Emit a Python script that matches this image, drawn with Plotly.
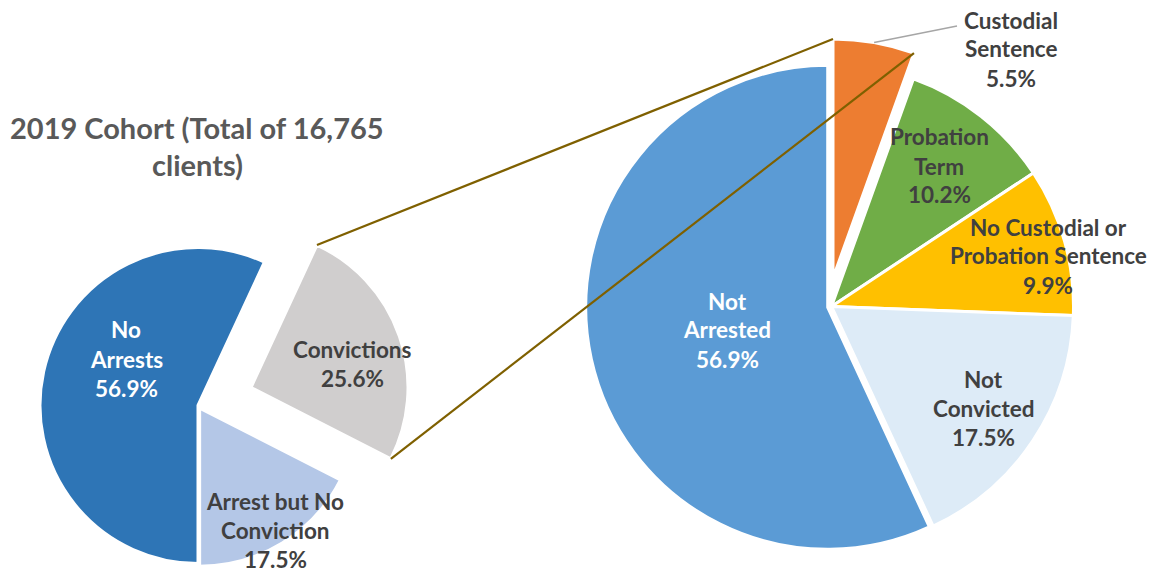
import math
import plotly.graph_objects as go

# ---- data -------------------------------------------------------------
left_labels = ["No Arrests", "Convictions", "Arrest but No Conviction"]
left_values = [56.9, 25.6, 17.5]
left_colors = ["#2E75B6", "#D0CECE", "#B4C7E7"]
left_text_lines = [["No", "Arrests"], ["Convictions"], ["Arrest but No", "Conviction"]]

right_labels = ["Custodial Sentence", "Probation Term",
                "No Custodial or Probation Sentence", "Not Convicted", "Not Arrested"]
right_values = [5.5, 10.2, 9.9, 17.5, 56.9]
right_colors = ["#ED7D31", "#70AD47", "#FFC000", "#DDEBF7", "#5B9BD5"]
right_text_lines = [["Custodial", "Sentence"], ["Probation", "Term"],
                    ["No Custodial or", "Probation Sentence"], ["Not", "Convicted"],
                    ["Not", "Arrested"]]

title_lines = ["2019 Cohort (Total of 16,765", "clients)"]

# ---- layout constants (pixels) ---------------------------------------
W, H = 1155, 572
FONT = "Lato"
DARK = "#404040"
CLEAR = "rgba(0,0,0,0)"

LEFT_ROT = 180              # left pie starts at 6 o'clock
LEFT_C, LEFT_R = (198, 405.5), 158
GRAY_C, GRAY_R = (251, 387.5), 157       # exploded "Convictions" slice
RIGHT_C, RIGHT_R = (831.5, 306.5), 242
ORANGE_C, ORANGE_R = (833, 278), 239     # exploded "Custodial Sentence" slice


def domain(c, r, pull=0.0):
    h = r * (1 + pull)
    cx, cy = c
    return dict(x=[(cx - h) / W, (cx + h) / W],
                y=[1 - (cy + h) / H, 1 - (cy - h) / H])


def pie(values, labels, colors, widths, c, r, rot, pull=None):
    mp = max(pull) if pull else 0.0
    return go.Pie(values=values, labels=labels, sort=False, direction="clockwise",
                  rotation=rot, textinfo="none", showlegend=False,
                  pull=pull if pull else 0,
                  marker=dict(colors=colors, line=dict(color="white", width=widths)),
                  domain=domain(c, r, mp), hoverinfo="label+percent")


def only(colors, idx):
    return [col if i in idx else CLEAR for i, col in enumerate(colors)]


def slice_angles(values, rot):
    tot = sum(values)
    out, a = [], rot
    for v in values:
        out.append((a, a + 360 * v / tot))
        a += 360 * v / tot
    return out


def pt(c, r, ang):
    return (c[0] + r * math.sin(math.radians(ang)), c[1] - r * math.cos(math.radians(ang)))


fig = go.Figure()

# left pie: main part and exploded slice
fig.add_trace(pie(left_values, left_labels, only(left_colors, {0, 2}), [3, 0, 3],
                  LEFT_C, LEFT_R, LEFT_ROT, pull=[0, 0, 0.02]))
fig.add_trace(pie(left_values, left_labels, only(left_colors, {1}), [0, 3, 0],
                  GRAY_C, GRAY_R, LEFT_ROT))

# right pie: main part and exploded slice
fig.add_trace(pie(right_values, right_labels, only(right_colors, {1, 2, 3, 4}),
                  [0, 3, 3, 3, 3], RIGHT_C, RIGHT_R, 0, pull=[0, 0, 0, 0, 0.016]))
fig.add_trace(pie(right_values, right_labels, only(right_colors, {0}), [3, 0, 0, 0, 0],
                  ORANGE_C, ORANGE_R, 0))

# connector lines between the exploded slices
la = slice_angles(left_values, LEFT_ROT)[1]
ra = slice_angles(right_values, 0)[0]
shapes = []
for ga, oa in zip(la, ra):
    x0, y0 = pt(GRAY_C, GRAY_R, ga)
    x1, y1 = pt(ORANGE_C, ORANGE_R, oa)
    shapes.append(dict(type="line", xref="paper", yref="paper",
                       x0=x0 / W, y0=1 - y0 / H, x1=x1 / W, y1=1 - y1 / H,
                       line=dict(color="#7F6000", width=2.2)))

# leader line for the custodial label
lx, ly = pt(ORANGE_C, ORANGE_R, (ra[0] + ra[1]) / 2)
shapes.append(dict(type="line", xref="paper", yref="paper",
                   x0=lx / W, y0=1 - ly / H, x1=957 / W, y1=1 - 26 / H,
                   line=dict(color="#A6A6A6", width=1.5)))

# ---- labels ------------------------------------------------------------
annotations = []


def add_text(x, y, text, size, color):
    annotations.append(dict(x=x / W, y=1 - y / H, xref="paper", yref="paper",
                            text=text, showarrow=False, xanchor="center",
                            yanchor="middle",
                            font=dict(family=FONT, size=size, color=color)))


def add_label(x, y0, lines, value, color, step=29):
    for i, ln in enumerate(lines + [f"{value:.1f}%"]):
        add_text(x, y0 + i * step, f"<b>{ln}</b>", 22.5, color)


left_pos = [(126, 330, "white"), (352, 349, DARK), (275, 501, DARK)]
for (x, y, col), lines, v in zip(left_pos, left_text_lines, left_values):
    add_label(x, y, lines, v, col)

right_pos = [(1011, 20, DARK), (939, 137, DARK), (1048, 227, DARK),
             (984, 379, DARK), (727, 301, "white")]
for (x, y, col), lines, v in zip(right_pos, right_text_lines, right_values):
    add_label(x, y, lines, v, col)

for i, t in enumerate(title_lines):
    add_text(197, 128 + i * 37, f"<b>{t}</b>", 29, "#595959")

fig.update_layout(width=W, height=H, autosize=False,
                  margin=dict(l=0, r=0, t=0, b=0),
                  paper_bgcolor="white", plot_bgcolor="white",
                  shapes=shapes, annotations=annotations)

fig.write_html("out.html")
